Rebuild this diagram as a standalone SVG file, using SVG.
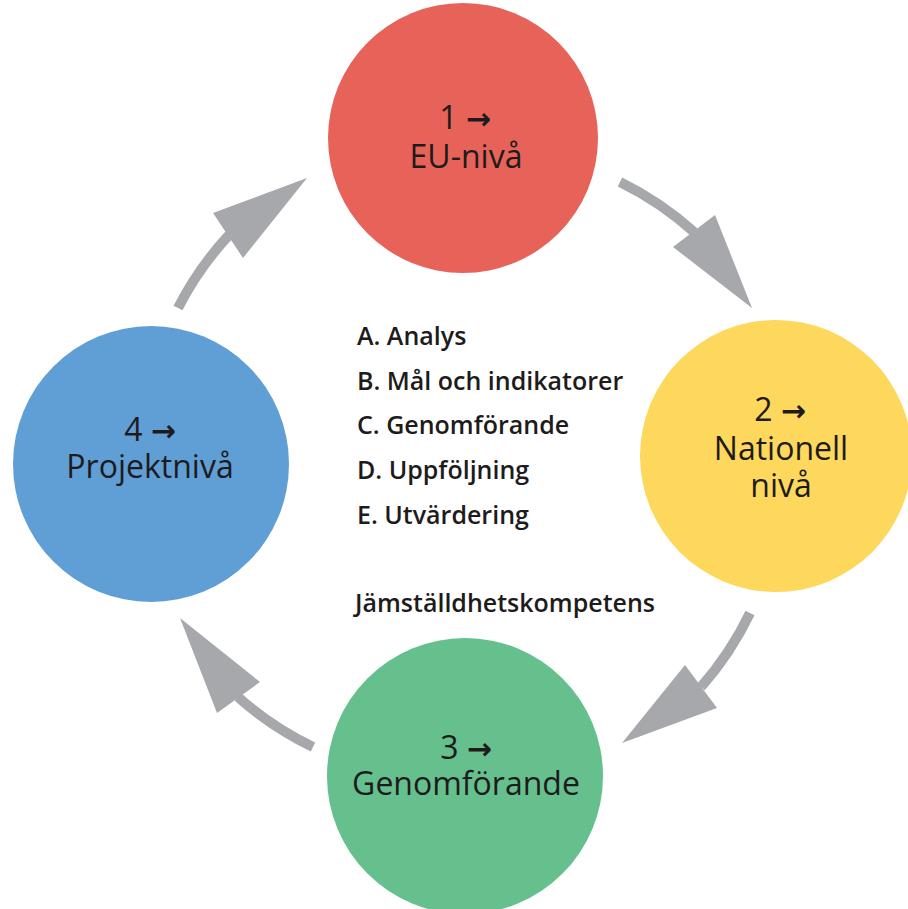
<svg xmlns="http://www.w3.org/2000/svg" width="908" height="909" viewBox="0 0 908 909">
<style>
.lbl{font-family:"Open Sans","Liberation Sans",sans-serif;font-weight:500;font-size:32px;fill:#1e1b1c;text-anchor:middle}
.ar{font-family:"DejaVu Sans",sans-serif;font-weight:bold;font-size:30px}
.list{font-family:"Open Sans","Liberation Sans",sans-serif;font-weight:600;font-size:25px;fill:#1e1b1c}
.shaft{fill:none;stroke:#a7a8ab;stroke-width:10}
.head{fill:#a7a8ab}
</style>
<rect width="908" height="909" fill="#ffffff"/>
<g id="connectors">
<path class="shaft" d="M178,308 A322,322 0 0 1 230,234"/>
<polygon class="head" points="213,213 307,178 243,258"/>
<path class="shaft" d="M620,182 A325,325 0 0 1 694,232"/>
<polygon class="head" points="673,247 715,215 752,308"/>
<path class="shaft" d="M750,613 A325,325 0 0 1 701,687"/>
<polygon class="head" points="685,665 717,708 622,743"/>
<path class="shaft" d="M313,747 A322,322 0 0 1 238,697"/>
<polygon class="head" points="180,618 260,682 217,713"/>
</g>
<g id="node1">
<circle cx="463" cy="138" r="135" fill="#e76359"/>
<text class="lbl" x="465" y="129">1 <tspan class="ar">→</tspan></text>
<text class="lbl" x="466" y="168">EU-nivå</text>
</g>
<g id="node2">
<circle cx="776" cy="456" r="136" fill="#fdd85c"/>
<text class="lbl" x="780" y="421">2 <tspan class="ar">→</tspan></text>
<text class="lbl" x="781" y="460">Nationell</text>
<text class="lbl" x="781" y="497">nivå</text>
</g>
<g id="node3">
<circle cx="465" cy="776" r="138" fill="#65c08e"/>
<text class="lbl" x="466" y="759">3 <tspan class="ar">→</tspan></text>
<text class="lbl" x="466" y="795">Genomförande</text>
</g>
<g id="node4">
<circle cx="151" cy="464" r="138" fill="#609ed6"/>
<text class="lbl" x="150" y="441">4 <tspan class="ar">→</tspan></text>
<text class="lbl" x="150" y="478">Projektnivå</text>
</g>
<g id="list">
<text class="list" x="357" y="345">A. Analys</text>
<text class="list" x="357" y="390">B. Mål och indikatorer</text>
<text class="list" x="357" y="434">C. Genomförande</text>
<text class="list" x="357" y="479">D. Uppföljning</text>
<text class="list" x="357" y="524">E. Utvärdering</text>
<text class="list" x="355" y="612">Jämställdhetskompetens</text>
</g>
</svg>
